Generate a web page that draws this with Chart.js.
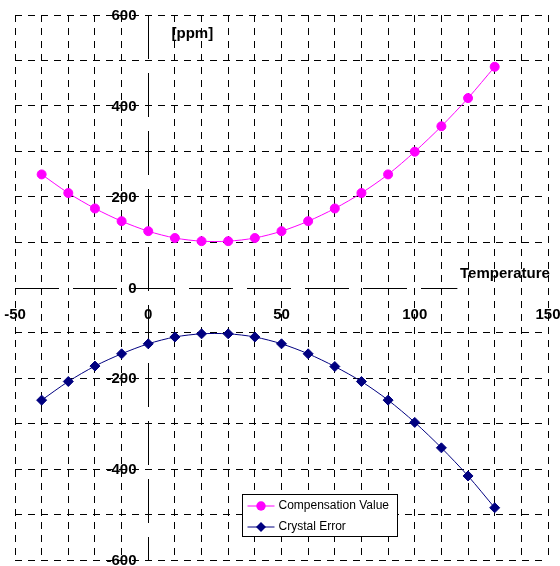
<!DOCTYPE html>
<html>
<head>
<meta charset="utf-8">
<script src="https://cdn.jsdelivr.net/npm/chart.js@4.4.1/dist/chart.umd.min.js"></script>
<style>
  html, body { margin: 0; padding: 0; background: #fff; }
  canvas { display: block; }
</style>
</head>
<body>
<canvas id="grafico" width="560" height="566"></canvas>
<script>
// Datos
const temperatures = [-40, -30, -20, -10, 0, 10, 20, 30, 40, 50, 60, 70, 80, 90, 100, 110, 120, 130];
const compensationValue = [249, 208, 174, 146, 124, 109, 102, 102, 109, 124, 146, 174, 208, 249, 299, 355, 417, 486];
const crystalError = [-248, -207, -173, -146, -124, -109, -102, -102, -109, -124, -146, -174, -207, -248, -297, -353, -415, -485];
const xTickLabels = [-50, 0, 50, 100, 150];
const yTickLabels = [600, 400, 200, 0, -200, -400, -600];

const FONT = '"Liberation Sans", Arial, sans-serif';

function toPoints(xs, ys) {
    return xs.map(function (x, i) { return { x: x, y: ys[i] }; });
}

// sin línea de cuadrícula en 0 (ahí va el eje)
function gridColor(c) {
    return c.tick && c.tick.value === 0 ? 'rgba(0,0,0,0)' : '#000';
}

// Ejes centrados, etiquetas y leyenda
const overlayPlugin = {
    id: 'overlay',
    beforeDatasetsDraw: function (chart) {
        const ctx = chart.ctx;
        const xs = chart.scales.x;
        const ys = chart.scales.y;
        const x0 = Math.round(xs.getPixelForValue(0)) + 0.5;
        const y0 = Math.round(ys.getPixelForValue(0)) + 0.5;
        ctx.save();
        ctx.strokeStyle = '#000';
        ctx.lineWidth = 1;
        ctx.setLineDash([44, 14]);
        // eje Y
        ctx.beginPath();
        ctx.moveTo(x0, ys.getPixelForValue(600));
        ctx.lineTo(x0, ys.getPixelForValue(-600));
        ctx.stroke();
        // eje X
        ctx.beginPath();
        ctx.moveTo(xs.getPixelForValue(-50), y0);
        ctx.lineTo(xs.getPixelForValue(116), y0);
        ctx.stroke();
        ctx.setLineDash([]);

        ctx.fillStyle = '#000';
        ctx.font = 'bold 15px ' + FONT;
        ctx.textAlign = 'right';
        ctx.textBaseline = 'middle';
        yTickLabels.forEach(function (v) {
            ctx.fillText(String(v), x0 - 12, ys.getPixelForValue(v) + 1);
        });
        ctx.textAlign = 'center';
        xTickLabels.forEach(function (v) {
            ctx.fillText(String(v), xs.getPixelForValue(v), y0 + 26);
        });
        ctx.textAlign = 'left';
        ctx.fillText('[ppm]', x0 + 23, ys.getPixelForValue(0) - 254);
        ctx.fillText('Temperature', xs.getPixelForValue(117), y0 - 15);
        ctx.restore();
    },
    afterDraw: function (chart) {
        const ctx = chart.ctx;
        const ds = chart.data.datasets;
        const bx = 242.5, by = 494.5, bw = 155, bh = 42;
        ctx.save();
        ctx.fillStyle = '#fff';
        ctx.fillRect(bx, by, bw, bh);
        ctx.strokeStyle = '#000';
        ctx.lineWidth = 1;
        ctx.strokeRect(bx, by, bw, bh);
        ctx.font = '12px ' + FONT;
        ctx.textBaseline = 'middle';
        ctx.textAlign = 'left';
        ds.forEach(function (d, i) {
            const yy = by + 11.5 + i * 21;
            ctx.strokeStyle = d.borderColor;
            ctx.beginPath();
            ctx.moveTo(bx + 5, yy);
            ctx.lineTo(bx + 32, yy);
            ctx.stroke();
            ctx.fillStyle = d.pointBackgroundColor;
            ctx.beginPath();
            const cx = bx + 18.5, r = 5;
            if (d.pointStyle === 'rectRot') {
                ctx.moveTo(cx, yy - r);
                ctx.lineTo(cx + r, yy);
                ctx.lineTo(cx, yy + r);
                ctx.lineTo(cx - r, yy);
                ctx.closePath();
            } else {
                ctx.arc(cx, yy, 4.7, 0, Math.PI * 2);
            }
            ctx.fill();
            ctx.fillStyle = '#000';
            ctx.fillText(d.label, bx + 36, yy);
        });
        ctx.restore();
    }
};

const ctx = document.getElementById('grafico').getContext('2d');
new Chart(ctx, {
    type: 'scatter',
    data: {
        datasets: [{
            label: 'Compensation Value',
            data: toPoints(temperatures, compensationValue),
            showLine: true,
            borderColor: '#FF00FF',
            borderWidth: 1,
            pointBackgroundColor: '#FF00FF',
            pointBorderColor: '#FF00FF',
            pointStyle: 'circle',
            pointRadius: 4.5,
            tension: 0.3
        }, {
            label: 'Crystal Error',
            data: toPoints(temperatures, crystalError),
            showLine: true,
            borderColor: '#000080',
            borderWidth: 1,
            pointBackgroundColor: '#000080',
            pointBorderColor: '#000080',
            pointStyle: 'rectRot',
            pointRadius: 5,
            tension: 0.3
        }]
    },
    options: {
        responsive: false,
        animation: false,
        layout: { padding: { left: 15, right: 12, top: 15, bottom: 5 } },
        plugins: { legend: { display: false }, tooltip: { enabled: false } },
        scales: {
            x: {
                type: 'linear', min: -50, max: 150,
                ticks: { display: false, stepSize: 10 },
                grid: { color: gridColor, lineWidth: 1, drawTicks: false },
                border: { display: false, dash: [7, 6] }
            },
            y: {
                type: 'linear', min: -600, max: 600,
                ticks: { display: false, stepSize: 100 },
                grid: { color: gridColor, lineWidth: 1, drawTicks: false },
                border: { display: false, dash: [7, 6] }
            }
        }
    },
    plugins: [overlayPlugin]
});
</script>
</body>
</html>
